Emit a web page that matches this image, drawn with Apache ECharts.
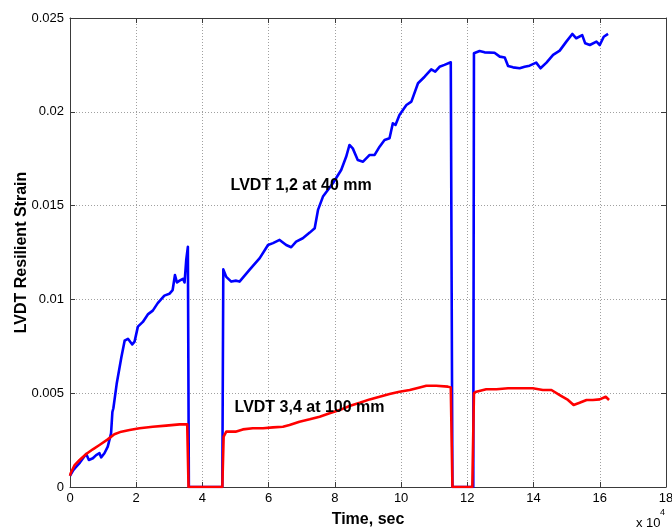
<!DOCTYPE html>
<html>
<head>
<meta charset="utf-8">
<script src="https://cdn.jsdelivr.net/npm/echarts@6/dist/echarts.min.js"></script>
<style>
  html, body { margin: 0; padding: 0; background: #ffffff; }
  #chart { width: 672px; height: 531px; }
</style>
</head>
<body>
<div id="chart"></div>
<script>
// Time in units of 1e4 s (axis carries the "x 10^4" multiplier)
const blueTime = [0.0, 0.1, 0.19, 0.3, 0.42, 0.49, 0.57, 0.69, 0.79, 0.89, 0.94, 1.04, 1.14, 1.24, 1.28, 1.31, 1.41, 1.55, 1.65, 1.75, 1.88, 1.95, 2.05, 2.2, 2.35, 2.5, 2.65, 2.85, 3.0, 3.1, 3.15, 3.17, 3.23, 3.31, 3.41, 3.46, 3.51, 3.56, 3.59, 4.60, 4.63, 4.72, 4.87, 5.02, 5.12, 5.42, 5.73, 5.98, 6.13, 6.33, 6.53, 6.68, 6.83, 7.03, 7.24, 7.39, 7.49, 7.64, 7.94, 8.19, 8.34, 8.44, 8.54, 8.69, 8.85, 9.05, 9.2, 9.35, 9.5, 9.65, 9.75, 9.83, 9.95, 10.16, 10.31, 10.51, 10.71, 10.91, 11.03, 11.16, 11.31, 11.5, 11.55, 12.18, 12.2, 12.37, 12.52, 12.82, 12.98, 13.13, 13.23, 13.38, 13.58, 13.73, 13.88, 14.08, 14.21, 14.39, 14.59, 14.79, 14.99, 15.17, 15.29, 15.47, 15.56, 15.7, 15.9, 16.0, 16.12, 16.25];
const blueStrain = [0.0006, 0.0009, 0.00108, 0.0013, 0.0016, 0.00176, 0.00144, 0.00153, 0.0017, 0.0018, 0.00158, 0.0018, 0.00215, 0.00286, 0.0040, 0.0042, 0.0055, 0.0069, 0.0078, 0.0079, 0.0076, 0.00775, 0.00855, 0.0088, 0.0092, 0.0094, 0.0098, 0.0102, 0.0103, 0.0105, 0.0104, 0.0113, 0.0109, 0.0110, 0.0111, 0.0109, 0.0121, 0.0128, 0.0, 0.0, 0.0116, 0.0112, 0.01095, 0.0110, 0.01095, 0.01157, 0.0122, 0.0129, 0.0130, 0.01317, 0.0129, 0.01278, 0.01308, 0.01326, 0.01356, 0.01379, 0.01477, 0.01548, 0.01619, 0.0169, 0.0176, 0.01823, 0.01805, 0.01743, 0.01734, 0.0177, 0.0177, 0.01814, 0.0185, 0.01859, 0.01939, 0.0193, 0.01983, 0.02036, 0.02054, 0.02152, 0.02187, 0.02226, 0.02214, 0.0224, 0.0225, 0.02264, 0.0, 0.0, 0.02312, 0.02324, 0.02317, 0.02315, 0.02294, 0.02289, 0.02244, 0.02237, 0.02232, 0.0224, 0.02246, 0.02262, 0.02232, 0.02262, 0.02303, 0.02326, 0.02374, 0.02415, 0.02392, 0.02409, 0.02365, 0.02356, 0.02374, 0.02356, 0.024, 0.02415];

const redTime = [0.0, 0.02, 0.14, 0.29, 0.49, 0.69, 0.89, 1.14, 1.34, 1.55, 1.8, 2.1, 2.5, 2.9, 3.31, 3.54, 3.58, 4.60, 4.64, 4.72, 5.0, 5.22, 5.52, 5.83, 6.13, 6.43, 6.63, 6.93, 7.24, 7.54, 7.84, 8.14, 8.44, 8.75, 9.05, 9.35, 9.65, 9.95, 10.26, 10.56, 10.76, 11.06, 11.41, 11.5, 11.55, 12.15, 12.2, 12.27, 12.57, 12.88, 13.23, 13.58, 13.98, 14.28, 14.54, 14.79, 15.04, 15.21, 15.39, 15.6, 15.79, 16.0, 16.18, 16.28];
const redStrain = [0.0006, 0.00073, 0.00117, 0.00144, 0.00176, 0.00201, 0.00224, 0.00254, 0.00281, 0.00295, 0.00304, 0.00313, 0.00321, 0.00327, 0.00334, 0.00334, 0.0, 0.0, 0.00268, 0.00295, 0.00295, 0.00307, 0.00313, 0.00313, 0.00318, 0.00321, 0.0033, 0.00348, 0.00361, 0.00375, 0.00393, 0.0041, 0.00432, 0.00449, 0.00467, 0.00481, 0.00496, 0.00508, 0.00517, 0.00531, 0.0054, 0.0054, 0.00535, 0.0053, 0.0, 0.0, 0.0050, 0.00508, 0.00521, 0.00521, 0.00526, 0.00526, 0.00526, 0.00517, 0.00517, 0.0049, 0.00464, 0.00437, 0.00449, 0.00464, 0.00464, 0.00467, 0.00481, 0.00464];

const xTickLabels = ['0', '2', '4', '6', '8', '10', '12', '14', '16', '18'];
const yTickLabels = ['0', '0.005', '0.01', '0.015', '0.02', '0.025'];

const seriesNames = ['LVDT 1,2 at 40 mm', 'LVDT 3,4 at 100 mm'];
// anchor points (time, strain) for the in-plot captions
const captionAnchors = [[4.85, 0.01604], [4.97, 0.00421]];

const FONT = '"Liberation Sans", Arial, Helvetica, sans-serif';
const AXIS_COLOR = '#3a3a3a';

function pairs(xs, ys) { return xs.map((x, i) => [x, ys[i]]); }

const chart = echarts.init(document.getElementById('chart'), null, { renderer: 'canvas' });

const gridLine = { show: true, lineStyle: { color: '#a0a0a0', type: [1, 2], width: 1 } };
const tickIn = { show: true, inside: true, length: 5, lineStyle: { color: AXIS_COLOR } };
const lineAxis = { show: true, onZero: false, lineStyle: { color: AXIS_COLOR, width: 1 } };

chart.setOption({
  animation: false,
  backgroundColor: '#ffffff',
  grid: { left: 70, right: 6, top: 18, bottom: 44, containLabel: false, outerBoundsMode: 'none' },
  xAxis: [{
    type: 'value', min: 0, max: 18, interval: 2, position: 'bottom',
    axisLine: lineAxis, axisTick: tickIn, splitLine: gridLine,
    axisLabel: {
      color: '#000', fontFamily: FONT, fontSize: 13, margin: 5,
      formatter: (v) => xTickLabels[Math.round(v / 2)]
    },
    name: 'Time, sec', nameLocation: 'middle', nameGap: 25, nameMoveOverlap: false,
    nameTextStyle: { color: '#000', fontFamily: FONT, fontSize: 16, fontWeight: 'bold' }
  }, {
    type: 'value', min: 0, max: 18, interval: 2, position: 'top',
    axisLine: lineAxis, axisTick: tickIn, splitLine: { show: false },
    axisLabel: { show: false }
  }],
  yAxis: [{
    type: 'value', min: 0, max: 0.025, interval: 0.005, position: 'left',
    axisLine: lineAxis, axisTick: tickIn, splitLine: gridLine,
    axisLabel: {
      color: '#000', fontFamily: FONT, fontSize: 13, margin: 6,
      formatter: (v) => yTickLabels[Math.round(v / 0.005)]
    },
    name: 'LVDT Resilient Strain', nameLocation: 'middle', nameGap: 40, nameMoveOverlap: false,
    nameTextStyle: { color: '#000', fontFamily: FONT, fontSize: 16, fontWeight: 'bold' }
  }, {
    type: 'value', min: 0, max: 0.025, interval: 0.005, position: 'right',
    axisLine: lineAxis, axisTick: tickIn, splitLine: { show: false },
    axisLabel: { show: false }
  }],
  series: [{
    name: seriesNames[0], type: 'line', xAxisIndex: 0, yAxisIndex: 0,
    data: pairs(blueTime, blueStrain), showSymbol: false, symbol: 'none',
    lineStyle: { color: '#0000ff', width: 2.6, join: 'round' }, z: 3
  }, {
    name: seriesNames[1], type: 'line', xAxisIndex: 0, yAxisIndex: 0,
    data: pairs(redTime, redStrain), showSymbol: false, symbol: 'none',
    lineStyle: { color: '#ff0000', width: 2.6, join: 'round' }, z: 4
  }]
});

// Captions placed at data coordinates, plus the x-axis exponent note
const captions = captionAnchors.map((a, i) => {
  const p = chart.convertToPixel({ xAxisIndex: 0, yAxisIndex: 0 }, a);
  return {
    type: 'text', x: p[0], y: p[1], z: 10,
    style: {
      text: seriesNames[i], fill: '#000', font: 'bold 16px ' + FONT,
      textAlign: 'left', textVerticalAlign: 'middle'
    }
  };
});

chart.setOption({
  graphic: captions.concat([
    { type: 'text', x: 636, y: 523, style: { text: 'x 10', fill: '#000', font: '13px ' + FONT, textAlign: 'left', textVerticalAlign: 'middle' } },
    { type: 'text', x: 660, y: 513, style: { text: '4', fill: '#000', font: '9px ' + FONT, textAlign: 'left', textVerticalAlign: 'middle' } }
  ])
});
</script>
</body>
</html>
